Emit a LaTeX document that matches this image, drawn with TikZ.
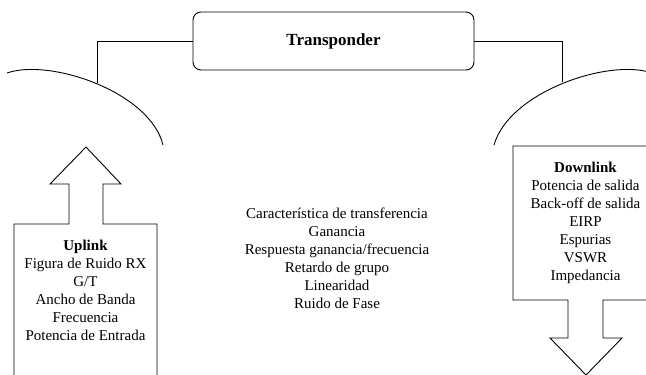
\documentclass[tikz,border=0pt]{standalone}
\usepackage{fontspec}
\setmainfont{Liberation Serif}
\usepackage{tikz}
\usepackage{xcolor}

\begin{document}
\begin{tikzpicture}[x=1pt,y=-1pt,line width=0.9pt]%
  \tikzstyle{boxt}=[rectangle,draw,rounded corners=8pt,minimum width=281pt,minimum height=58pt,font=\fontsize{17}{19}\selectfont\bfseries]
  \tikzstyle{lst}=[align=center,inner sep=0,font=\fontsize{15}{18}\selectfont]
  \tikzstyle{arrw}=[draw,line join=miter]
  \useasboundingbox (0,0) rectangle (646,375);
  \clip (0,0) rectangle (646,375);
  \node(tr)[boxt] at (333.5,41) {Transponder};
  % antenas
  \draw (7,73) .. controls (50,58) and (150,92) .. (163,145);
  \draw (652,73) .. controls (609,58) and (509,92) .. (494,145);
  \coordinate (ul) at (97,83);
  \coordinate (dl) at (562,82);
  \draw (tr.west) -- (ul |- tr.west) -- (ul);
  \draw (tr.east) -- (dl |- tr.east) -- (dl);
  % uplink
  \draw[arrw] (14,380) -- (14,224) -- (69,224) -- (69,184) -- (50,184) -- (86,147)
    -- (121,184) -- (103,184) -- (103,224) -- (157,224) -- (157,380);
  \node(up)[lst] at (85.5,290) {\textbf{Uplink}\\Figura de Ruido RX\\G/T\\Ancho de Banda\\Frecuencia\\Potencia de Entrada};
  % downlink
  \draw[arrw] (660,146) -- (513,146) -- (513,300) -- (568,300) -- (568,338) -- (550,338)
    -- (586,375) -- (622,338) -- (603,338) -- (603,300) -- (660,300);
  \node(down)[lst] at (585.5,223) {\textbf{Downlink}\\Potencia de salida\\Back-off de salida\\EIRP\\Espurias\\VSWR\\Impedancia};
  % transponder
  \node(par)[lst] at (337,258) {Característica de transferencia\\Ganancia\\Respuesta ganancia/frecuencia\\Retardo de grupo\\Linearidad\\Ruido de Fase};
\end{tikzpicture}
\end{document}
